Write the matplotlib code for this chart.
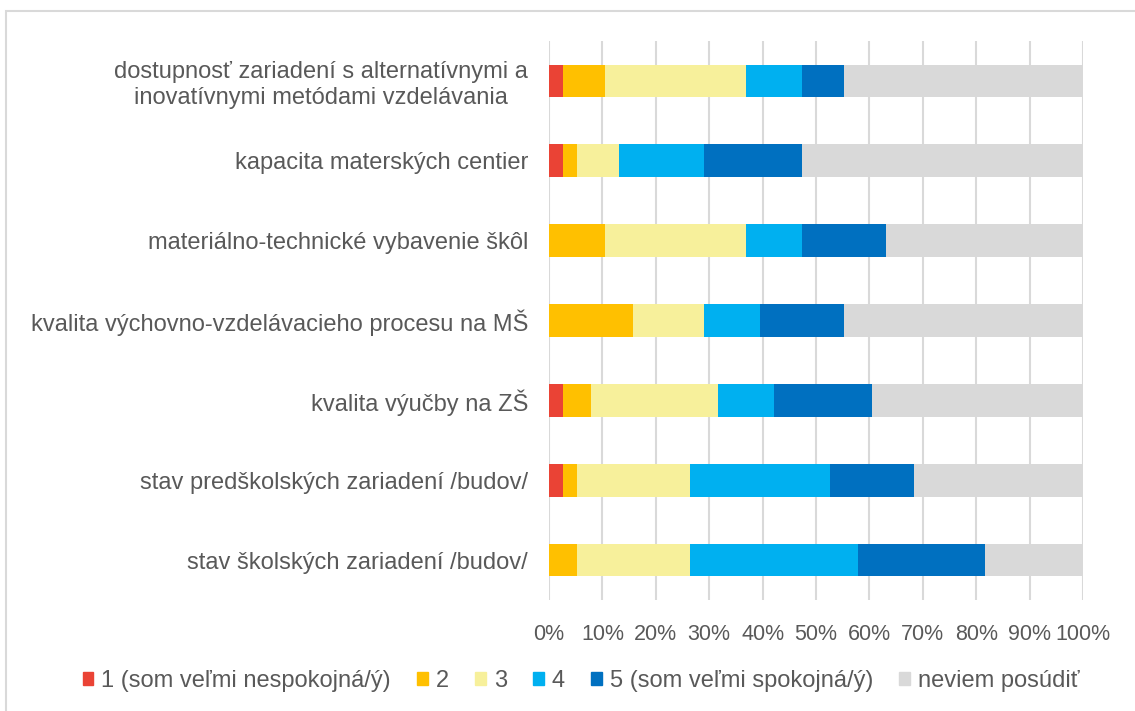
import matplotlib.pyplot as plt
from matplotlib.patches import Rectangle, Patch
import numpy as np

plt.rcParams["font.family"] = ["Liberation Sans", "DejaVu Sans"]

# categories, top to bottom
categories = [
    "dostupnosť zariadení s alternatívnymi a\ninovatívnymi metódami vzdelávania",
    "kapacita materských centier",
    "materiálno-technické vybavenie škôl",
    "kvalita výchovno-vzdelávacieho procesu na MŠ",
    "kvalita výučby na ZŠ",
    "stav predškolských zariadení /budov/",
    "stav školských zariadení /budov/",
]
series_names = [
    "1 (som veľmi nespokojná/ý)",
    "2",
    "3",
    "4",
    "5 (som veľmi spokojná/ý)",
    "neviem posúdiť",
]
# answer counts per category (38 respondents each)
r1 = [1, 1, 0, 0, 1, 1, 0]
r2 = [3, 1, 4, 6, 2, 1, 2]
r3 = [10, 3, 10, 5, 9, 8, 8]
r4 = [4, 6, 4, 4, 4, 10, 12]
r5 = [3, 7, 6, 6, 7, 6, 9]
r_na = [17, 20, 14, 17, 15, 12, 7]
colors = ["#EA4335", "#FFC000", "#F7F09B", "#00B0F0", "#0070C0", "#D9D9D9"]
text_color = "#595959"

counts = np.array([r1, r2, r3, r4, r5, r_na], dtype=float)
pct = counts / counts.sum(axis=0) * 100

fig = plt.figure(figsize=(11.35, 7.11), dpi=100)
fig.patches.append(Rectangle((6 / 1135, -0.1), 1.2, 1 - 11 / 711 + 0.1,
                             transform=fig.transFigure, fill=False,
                             edgecolor="#D9D9D9", linewidth=1.5))
ax = fig.add_axes([549 / 1135, 1 - 600 / 711, (1083 - 549) / 1135, 559 / 711])

y = np.arange(len(categories))
left = np.zeros(len(categories))
for vals, name, c in zip(pct, series_names, colors):
    ax.barh(y, vals, left=left, height=0.41, color=c, label=name, zorder=3)
    left += vals

ax.set_xlim(0, 100)
ax.set_ylim(len(categories) - 0.5, -0.5)
ax.set_xticks(range(0, 101, 10))
ax.set_xticklabels([f"{v}%" for v in range(0, 101, 10)])
ax.set_yticks(y)
ax.set_yticklabels(categories)
for lbl in ax.get_yticklabels():
    lbl.set_multialignment("center")
ax.grid(axis="x", color="#D9D9D9", linewidth=1.5, zorder=0)
for s in ax.spines.values():
    s.set_visible(False)
ax.tick_params(axis="both", length=0, colors=text_color)
ax.tick_params(axis="y", pad=15, labelsize=17)
ax.tick_params(axis="x", pad=17, labelsize=15.5)

handles = [Patch(color=c) for c in colors]
fig.legend(handles, series_names, loc="center", bbox_to_anchor=(0.512, 1 - 681 / 711),
           ncol=6, frameon=False, fontsize=17, handlelength=0.45, handleheight=0.45,
           handletextpad=0.35, columnspacing=1.1, labelcolor=text_color)

fig.savefig("out.png", dpi=100)
